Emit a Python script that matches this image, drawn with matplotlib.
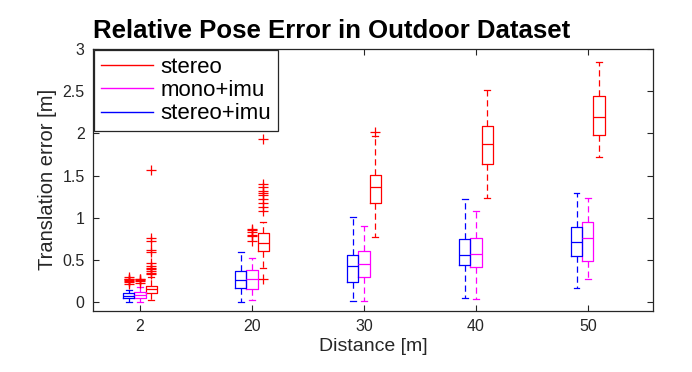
import matplotlib
matplotlib.use("Agg")
import matplotlib.pyplot as plt
from matplotlib.lines import Line2D

plt.rcParams['font.family'] = ['Liberation Sans', 'DejaVu Sans']

# === datos ===
distances = ["2", "20", "30", "40", "50"]
methods = ["stereo", "mono+imu", "stereo+imu"]
colors = {"stereo": "#ff0000", "mono+imu": "#ff00ff", "stereo+imu": "#0000ff"}

# cuartiles / bigotes por distancia
stereo_q1 = [0.114, 0.61, 1.18, 1.635, 1.984]
stereo_med = [0.154, 0.70, 1.37, 1.87, 2.19]
stereo_q3 = [0.193, 0.815, 1.506, 2.09, 2.447]
stereo_lo = [0.02, 0.40, 0.77, 1.235, 1.72]
stereo_hi = [0.30, 0.95, 1.97, 2.51, 2.85]
stereo_out = [[0.33, 0.35, 0.37, 0.39, 0.41, 0.43, 0.46, 0.60, 0.62, 0.72, 0.76, 1.57],
              [0.28, 1.08, 1.13, 1.17, 1.22, 1.27, 1.30, 1.32, 1.37, 1.40, 1.93],
              [2.02], [], []]

mono_q1 = [0.047, 0.154, 0.30, 0.42, 0.494]
mono_med = [0.087, 0.28, 0.447, 0.573, 0.76]
mono_q3 = [0.126, 0.38, 0.61, 0.76, 0.945]
mono_lo = [0.0, 0.03, 0.016, 0.035, 0.27]
mono_hi = [0.185, 0.52, 0.906, 1.086, 1.23]
mono_out = [[0.23, 0.25, 0.26, 0.27, 0.28],
            [0.72, 0.78, 0.80, 0.83, 0.85, 0.87],
            [], [], []]

si_q1 = [0.047, 0.165, 0.243, 0.435, 0.545]
si_med = [0.079, 0.264, 0.427, 0.56, 0.71]
si_q3 = [0.114, 0.374, 0.565, 0.749, 0.89]
si_lo = [0.008, 0.0, 0.016, 0.055, 0.17]
si_hi = [0.14, 0.59, 1.015, 1.22, 1.30]
si_out = [[0.22, 0.24, 0.25, 0.26, 0.27, 0.28, 0.30],
          [], [], [], []]

series = {
    "stereo": (stereo_q1, stereo_med, stereo_q3, stereo_lo, stereo_hi, stereo_out),
    "mono+imu": (mono_q1, mono_med, mono_q3, mono_lo, mono_hi, mono_out),
    "stereo+imu": (si_q1, si_med, si_q3, si_lo, si_hi, si_out),
}
offsets = {"stereo+imu": -0.1, "mono+imu": 0.0, "stereo": 0.1}

# === figura ===
fig = plt.figure(figsize=(6.92, 3.72), dpi=100)
ax = fig.add_axes([0.1344, 0.165, 0.809, 0.703])

for m in methods:
    q1, med, q3, lo, hi, out = series[m]
    c = colors[m]
    stats = [dict(q1=q1[i], med=med[i], q3=q3[i], whislo=lo[i], whishi=hi[i], fliers=out[i])
             for i in range(len(distances))]
    pos = [i + 1 + offsets[m] for i in range(len(distances))]
    ax.bxp(stats, positions=pos, widths=0.1, capwidths=0.05, manage_ticks=False,
           boxprops=dict(color=c, lw=0.9),
           medianprops=dict(color=c, lw=0.9),
           whiskerprops=dict(color=c, lw=0.9, ls=(0, (5, 3))),
           capprops=dict(color=c, lw=0.9),
           flierprops=dict(marker='+', markeredgecolor='#ff0000', markersize=7,
                           markeredgewidth=0.9, linestyle='none'))

ax.set_xlim(0.58, 5.58)
ax.set_ylim(-0.1, 3)
ax.set_xticks(range(1, len(distances) + 1))
ax.set_xticklabels(distances)
yt = [0, 0.5, 1, 1.5, 2, 2.5, 3]
ax.set_yticks(yt)
ax.set_yticklabels([f"{v:g}" for v in yt])
ax.tick_params(direction='in', top=True, right=True, length=4, labelsize=11.5, pad=6,
               colors='#262626')
for s in ax.spines.values():
    s.set_linewidth(0.9)
    s.set_color('#262626')

ax.set_xlabel("Distance [m]", fontsize=14, color='#262626', labelpad=3)
ax.set_ylabel("Translation error [m]", fontsize=14.5, color='#262626', labelpad=4)
ax.set_title("Relative Pose Error in Outdoor Dataset", fontsize=18.5, fontweight='bold',
             loc='left', pad=8)

handles = [Line2D([], [], color=colors[m], lw=1) for m in methods]
leg = ax.legend(handles, methods, loc='upper left', fontsize=16, handlelength=2.35,
                borderaxespad=0.05, labelspacing=0.1, handletextpad=0.35,
                fancybox=False, framealpha=1, edgecolor='#262626', borderpad=0.3)
leg.get_frame().set_linewidth(0.9)

fig.savefig("out.png", dpi=100)
